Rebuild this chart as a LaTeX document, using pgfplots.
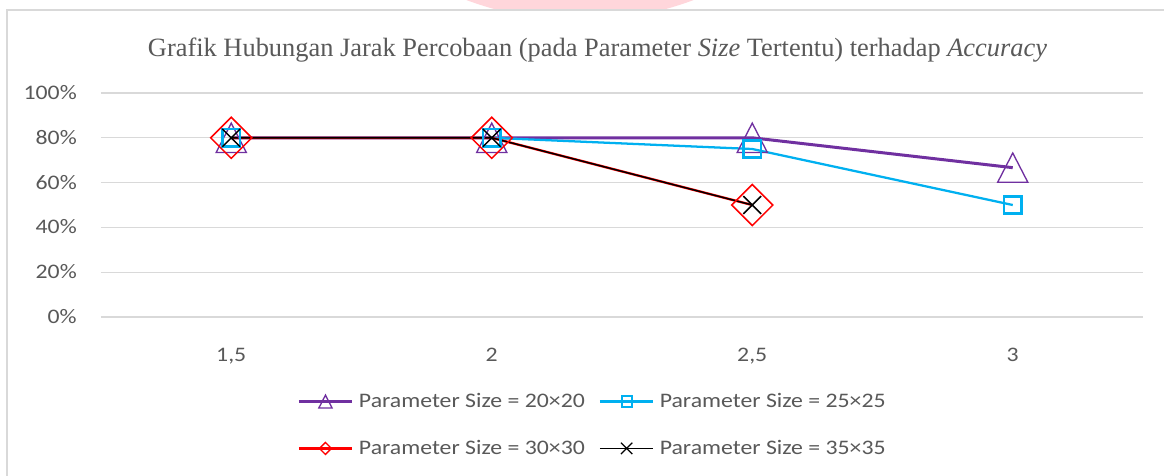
\documentclass[border=0pt]{standalone}
\usepackage{fontspec}
\usepackage{pgfplots}
\usepackage{pgfplotstable}
\pgfplotsset{compat=1.18}
\setmainfont{Carlito}[FakeStretch=1.15]
\newfontfamily\titlefont{Liberation Serif}
\definecolor{txtgray}{HTML}{595959}
\definecolor{gridgray}{HTML}{D9D9D9}
\definecolor{cpurple}{HTML}{7030A0}
\definecolor{cblue}{HTML}{00B0F0}
\definecolor{cred}{HTML}{FF0000}
\definecolor{wmpink}{RGB}{255,214,219}

\pgfdeclareplotmark{tri}{%
  \pgfpathmoveto{\pgfqpoint{0pt}{\pgfplotmarksize}}%
  \pgfpathlineto{\pgfqpoint{1.03\pgfplotmarksize}{-\pgfplotmarksize}}%
  \pgfpathlineto{\pgfqpoint{-1.03\pgfplotmarksize}{-\pgfplotmarksize}}%
  \pgfpathclose
  \pgfusepathqstroke
}
\pgfdeclareplotmark{dia}{%
  \pgfpathmoveto{\pgfqpoint{0pt}{\pgfplotmarksize}}%
  \pgfpathlineto{\pgfqpoint{\pgfplotmarksize}{0pt}}%
  \pgfpathlineto{\pgfqpoint{0pt}{-\pgfplotmarksize}}%
  \pgfpathlineto{\pgfqpoint{-\pgfplotmarksize}{0pt}}%
  \pgfpathclose
  \pgfusepathqstroke
}

\pgfplotstableread{
x a b c d
0 0.8 0.8 0.8 0.8
1 0.8 0.8 0.8 0.8
2 0.8 0.75 0.5 0.5
3 0.6667 0.5 nan nan
}\datatable

\begin{document}
\begin{tikzpicture}
\path[use as bounding box] (0,0) rectangle (873pt,-356.25pt);
\clip (0,0) rectangle (873pt,-356.25pt);
\fill[white] (0,0) rectangle (873pt,-356.25pt);
\fill[wmpink] ({580*0.75pt},{303.5*0.75pt}) circle ({324*0.75pt});
\fill[white] (0,{-9.5*0.75pt}) rectangle (873pt,-356.25pt);
\draw[gridgray, line width=1.2pt] ({7*0.75pt},-400pt) -- ({7*0.75pt},{-10*0.75pt}) -- (900pt,{-10*0.75pt});
\node[anchor=base, text=txtgray, font=\titlefont\fontsize{19.8}{24}\selectfont, inner sep=0pt]
  at ({597.5*0.75pt},{-56*0.75pt}) {Grafik Hubungan Jarak Percobaan (pada Parameter \textit{Size} Tertentu) terhadap \textit{Accuracy}};
\begin{axis}[
  at={({101*0.75pt},{-317*0.75pt})}, anchor=south west,
  scale only axis, width=781.5pt, height=168pt,
  xmin=-0.5, xmax=3.5, ymin=0, ymax=1,
  clip=false,
  xtick={0,1,2,3}, xticklabels={{1,5},2,{2,5},3},
  ytick={0,0.2,0.4,0.6,0.8,1},
  yticklabels={0\%,20\%,40\%,60\%,80\%,100\%},
  ymajorgrids, grid style={draw=gridgray, line width=1pt},
  axis line style={draw=none}, major tick length=0pt,
  tick label style={font=\fontsize{15.5}{18}\selectfont, text=txtgray, inner sep=0pt},
  xticklabel style={anchor=base, yshift=-33.4pt},
  yticklabel style={anchor=base east, xshift=-18pt, yshift=-4.9pt},
  legend columns=2,
  legend cell align=left,
  legend image code/.code={\draw[mark repeat=2,mark phase=2] plot coordinates {(0pt,0pt) (20pt,0pt) (40pt,0pt)};},
  legend style={at={(0.4707,-0.482)}, anchor=center, draw=none, fill=none,
    font=\fontsize{15.5}{18}\selectfont, text=txtgray,
    nodes={inner sep=0pt},
    /tikz/every odd column/.append style={column sep=4pt},
    /tikz/every even column/.append style={column sep=10.5pt},
    row sep=23pt},
]
\addlegendimage{cpurple, line width=2.25pt, mark=tri, mark size=4.8pt, mark options={solid, line width=1pt}}
\addlegendentry{Parameter Size = 20×20}
\addlegendimage{cblue, line width=1.7pt, mark=square, mark size=3.8pt, mark options={solid, line width=1.5pt}}
\addlegendentry{Parameter Size = 25×25}
\addlegendimage{cred, line width=2pt, mark=dia, mark size=4.5pt, mark options={solid, line width=1pt}}
\addlegendentry{Parameter Size = 30×30}
\addlegendimage{black, line width=1.1pt, mark=x, mark size=6pt, mark options={solid, line width=1pt}}
\addlegendentry{Parameter Size = 35×35}

\addplot[forget plot, cpurple, line width=2.25pt, mark=tri, mark size=11pt, mark options={solid, line width=1pt}] table[x=x, y=a] {\datatable};
\addplot[forget plot, cblue, line width=1.7pt, mark=square, mark size=6.5pt, mark options={solid, line width=2pt}] table[x=x, y=b] {\datatable};
\addplot[forget plot, cred, line width=1.8pt, mark=dia, mark size=15.4pt, mark options={solid, line width=1.1pt}] table[x=x, y=c] {\datatable};
\addplot[forget plot, black, line width=1.1pt, mark=x, mark size=9.5pt, mark options={solid, line width=1.1pt}] table[x=x, y=d] {\datatable};
\end{axis}
\end{tikzpicture}
\end{document}
